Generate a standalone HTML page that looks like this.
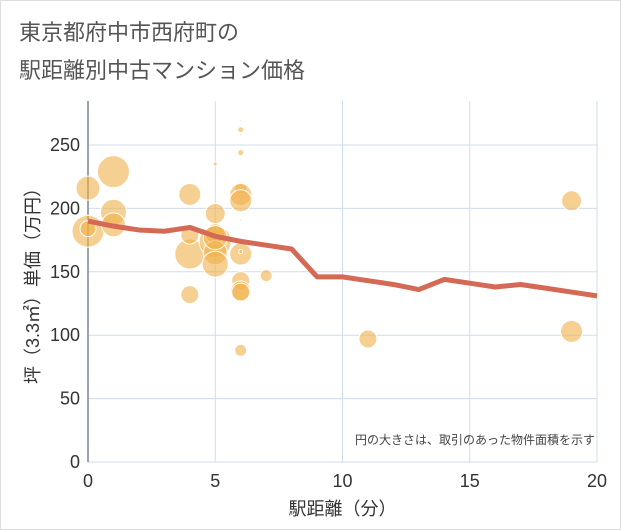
<!DOCTYPE html>
<html><head><meta charset="utf-8"><style>
body{margin:0;background:#fff;font-family:"Liberation Sans","Noto Sans CJK JP",sans-serif;}
#wrap{position:relative;width:621px;height:530px;border:1px solid #ddd;box-sizing:border-box;}
.title{position:absolute;left:18px;font-size:22px;color:#555;}
</style></head><body>
<div id="wrap">
<div class="title" style="top:14px">東京都府中市西府町の</div>
<div class="title" style="top:52px">駅距離別中古マンション価格</div>
<svg id="chart" width="621" height="530" style="position:absolute;left:0;top:0"></svg>
</div>
<script>
const xTicks=[0,5,10,15,20];
const yTicks=[0,50,100,150,200,250];
const lineX=[0,1,2,3,4,5,6,7,8,9,10,11,12,13,14,15,16,17,18,19,20];
const lineY=[190,186,183,182,185,178,174,171,168,146,146,143,140,136,144,141,138,140,137,134,131];
const bubX=[0,0,0,1,1,1,4,4,4,4,5,5,5,5,5,5,5,6,6,6,6,6,6,6,6,6,6,6,6,6,6,7,11,19,19];
const bubY=[216,182,184,229,197,187,211,164,179,132,235,196,174,180,165,156,177,269,262,258,244,216,211,206,191,164,166,143,135,134,88,147,97,206,103];
const bubR=[12,16,8,16,13,12,11,15,9,9,2,10,16,10,12,13,12,1,3,1,3,6,11,11,1,11,2,9,10,9,6,6,9,10,11];
const NS='http://www.w3.org/2000/svg';
const svg=document.getElementById('chart');
const L=87,R=596,T=100,B=461;
const sx=v=>L+(v-0)/(20-0)*(R-L);
const sy=v=>B-v/250*(B-144);
function mk(t,a){const e=document.createElementNS(NS,t);for(const k in a)e.setAttribute(k,a[k]);svg.appendChild(e);return e;}
const pa=mk('rect',{x:L,y:T,width:R-L,height:B-T,fill:'#fff'});


xTicks.forEach(v=>{
 const g=mk('line',{x1:sx(v),x2:sx(v),y1:T,y2:B,stroke:'#d0dcea','stroke-width':1});
 
 const t=mk('text',{x:sx(v),y:B+25,'text-anchor':'middle','font-size':18,fill:'#333'});t.textContent=v;
 
});
yTicks.forEach(v=>{
 const g=mk('line',{x1:L,x2:R,y1:sy(v),y2:sy(v),stroke:'#d0dcea','stroke-width':1});
 
 const t=mk('text',{x:L-8,y:sy(v)+6,'text-anchor':'end','font-size':18,fill:'#333'});t.textContent=v;
 
});
const ax=mk('line',{x1:L,x2:L,y1:T,y2:B,stroke:'#7a8590','stroke-width':1.5});

bubX.forEach((x,i)=>{
 const c=mk('circle',{cx:sx(x),cy:sy(bubY[i]),r:bubR[i],fill:'#f0b04a','fill-opacity':0.6,stroke:'#fff','stroke-width':1});
 
});
const p=mk('polyline',{points:lineX.map((x,i)=>sx(x)+','+sy(lineY[i])).join(' '),fill:'none',stroke:'#d46a55','stroke-width':5,'stroke-linejoin':'round'});

const xt=mk('text',{x:(L+R)/2,y:514,'text-anchor':'middle','font-size':18,fill:'#333'});xt.textContent='駅距離（分）';

const yt=mk('text',{x:0,y:0,'text-anchor':'middle','font-size':18,fill:'#333',transform:'translate(38,'+((T+B)/2)+') rotate(-90)'});yt.textContent='坪（3.3㎡）単価（万円）';

const n=mk('text',{x:R-2,y:443,'text-anchor':'end','font-size':12,fill:'#444'});n.textContent='円の大きさは、取引のあった物件面積を示す';

</script>
</body></html>
